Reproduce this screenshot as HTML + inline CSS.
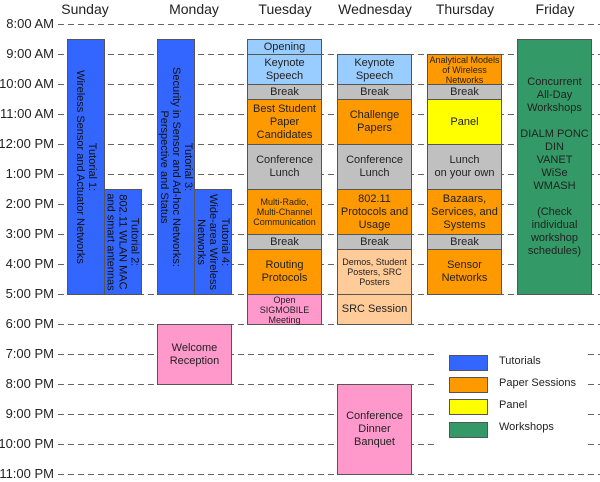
<!DOCTYPE html>
<html><head><style>
body{margin:0;width:600px;height:482px;background:#fff;position:relative;overflow:hidden;font-family:"Liberation Sans",sans-serif;}
.l{position:absolute;left:-10px;width:64px;text-align:right;font-size:13px;color:#222;line-height:14px;white-space:nowrap;}
.d{position:absolute;top:1px;font-size:14px;color:#222;text-align:center;width:100px;}
.b{position:absolute;box-sizing:border-box;border:1px solid #555;display:flex;align-items:center;justify-content:center;text-align:center;font-size:11px;line-height:13px;color:#222;}
.bl{background:#3366ff}.lb{background:#99ccff}.g{background:#c0c0c0}.o{background:#ff9900}.y{background:#ffff00}.p{background:#ff99cc}.lo{background:#ffcc99}.gr{background:#339966}
.v{position:absolute;transform:rotate(90deg);transform-origin:center;text-align:center;font-size:11px;line-height:12px;color:#111;white-space:nowrap;}
.s{font-size:9px;line-height:10px}
.lg{position:absolute;left:499px;font-size:11px;color:#222;}
</style></head><body>
<svg width="600" height="482" style="position:absolute;left:0;top:0">
<g stroke="#666" stroke-width="1" stroke-dasharray="6,4">
<line x1="58" y1="24.5" x2="600" y2="24.5"/><line x1="58" y1="54.5" x2="600" y2="54.5"/><line x1="58" y1="84.5" x2="600" y2="84.5"/><line x1="58" y1="114.5" x2="600" y2="114.5"/><line x1="58" y1="144.5" x2="600" y2="144.5"/><line x1="58" y1="174.5" x2="600" y2="174.5"/><line x1="58" y1="204.5" x2="600" y2="204.5"/><line x1="58" y1="234.5" x2="600" y2="234.5"/><line x1="58" y1="264.5" x2="600" y2="264.5"/><line x1="58" y1="294.5" x2="600" y2="294.5"/><line x1="58" y1="324.5" x2="600" y2="324.5"/><line x1="58" y1="354.5" x2="600" y2="354.5"/><line x1="58" y1="384.5" x2="600" y2="384.5"/><line x1="58" y1="414.5" x2="600" y2="414.5"/><line x1="58" y1="444.5" x2="600" y2="444.5"/><line x1="58" y1="474.5" x2="600" y2="474.5"/>
</g>
<rect x="437" y="340" width="148" height="110" fill="#fff"/>
</svg>
<div class="d" style="left:35px">Sunday</div><div class="d" style="left:144px">Monday</div><div class="d" style="left:235px">Tuesday</div><div class="d" style="left:325px">Wednesday</div><div class="d" style="left:415px">Thursday</div><div class="d" style="left:505px">Friday</div>
<div class="l" style="top:17px">8:00 AM</div><div class="l" style="top:47px">9:00 AM</div><div class="l" style="top:77px">10:00 AM</div><div class="l" style="top:107px">11:00 AM</div><div class="l" style="top:137px">12:00 PM</div><div class="l" style="top:167px">1:00 PM</div><div class="l" style="top:197px">2:00 PM</div><div class="l" style="top:227px">3:00 PM</div><div class="l" style="top:257px">4:00 PM</div><div class="l" style="top:287px">5:00 PM</div><div class="l" style="top:317px">6:00 PM</div><div class="l" style="top:347px">7:00 PM</div><div class="l" style="top:377px">8:00 PM</div><div class="l" style="top:407px">9:00 PM</div><div class="l" style="top:437px">10:00 PM</div><div class="l" style="top:467px">11:00 PM</div>

<div class="b bl" style="left:67px;top:39px;width:38px;height:256px"><div class="v">Tutorial 1:<br>Wireless Sensor and Actuator Networks</div></div>
<div class="b bl" style="left:104px;top:189px;width:38px;height:106px"><div class="v">Tutorial 2:<br>802.11 WLAN MAC<br>and smart antennas</div></div>
<div class="b bl" style="left:157px;top:39px;width:38px;height:256px"><div class="v">Tutorial 3:<br>Security in Sensor and Ad-hoc Networks:<br>Perspective and Status</div></div>
<div class="b bl" style="left:194px;top:189px;width:38px;height:106px"><div class="v">Tutorial 4:<br>Wide-area Wireless<br>Networks</div></div>
<div class="b p" style="left:157px;top:324px;width:75px;height:61px">Welcome<br>Reception</div>

<div class="b lb" style="left:247px;top:39px;width:75px;height:16px">Opening</div>
<div class="b lb" style="left:247px;top:54px;width:75px;height:31px">Keynote<br>Speech</div>
<div class="b g" style="left:247px;top:84px;width:75px;height:16px">Break</div>
<div class="b o" style="left:247px;top:99px;width:75px;height:46px">Best Student<br>Paper<br>Candidates</div>
<div class="b g" style="left:247px;top:144px;width:75px;height:46px">Conference<br>Lunch</div>
<div class="b o s" style="left:247px;top:189px;width:75px;height:46px">Multi-Radio,<br>Multi-Channel<br>Communication</div>
<div class="b g" style="left:247px;top:234px;width:75px;height:16px">Break</div>
<div class="b o" style="left:247px;top:249px;width:75px;height:46px">Routing<br>Protocols</div>
<div class="b p s" style="left:247px;top:294px;width:75px;height:31px">Open<br>SIGMOBILE<br>Meeting</div>

<div class="b lb" style="left:337px;top:54px;width:75px;height:31px">Keynote<br>Speech</div>
<div class="b g" style="left:337px;top:84px;width:75px;height:16px">Break</div>
<div class="b o" style="left:337px;top:99px;width:75px;height:46px">Challenge<br>Papers</div>
<div class="b g" style="left:337px;top:144px;width:75px;height:46px">Conference<br>Lunch</div>
<div class="b o" style="left:337px;top:189px;width:75px;height:46px">802.11<br>Protocols and<br>Usage</div>
<div class="b g" style="left:337px;top:234px;width:75px;height:16px">Break</div>
<div class="b lo s" style="left:337px;top:249px;width:75px;height:46px">Demos, Student<br>Posters, SRC<br>Posters</div>
<div class="b lo" style="left:337px;top:294px;width:75px;height:31px">SRC Session</div>
<div class="b p" style="left:337px;top:384px;width:75px;height:91px">Conference<br>Dinner<br>Banquet</div>

<div class="b o s" style="left:427px;top:54px;width:75px;height:31px">Analytical Models<br>of Wireless<br>Networks</div>
<div class="b g" style="left:427px;top:84px;width:75px;height:16px">Break</div>
<div class="b y" style="left:427px;top:99px;width:75px;height:46px">Panel</div>
<div class="b g" style="left:427px;top:144px;width:75px;height:46px">Lunch<br>on your own</div>
<div class="b o" style="left:427px;top:189px;width:75px;height:46px">Bazaars,<br>Services, and<br>Systems</div>
<div class="b g" style="left:427px;top:234px;width:75px;height:16px">Break</div>
<div class="b o" style="left:427px;top:249px;width:75px;height:46px">Sensor<br>Networks</div>

<div class="b gr" style="left:517px;top:39px;width:75px;height:256px">Concurrent<br>All-Day<br>Workshops<br><br>DIALM PONC<br>DIN<br>VANET<br>WiSe<br>WMASH<br><br>(Check<br>individual<br>workshop<br>schedules)</div>

<div class="b bl" style="left:449px;top:355px;width:39px;height:16px"></div><div class="lg" style="top:355px">Tutorials</div>
<div class="b o" style="left:449px;top:377px;width:39px;height:16px"></div><div class="lg" style="top:377px">Paper Sessions</div>
<div class="b y" style="left:449px;top:399px;width:39px;height:16px"></div><div class="lg" style="top:399px">Panel</div>
<div class="b gr" style="left:449px;top:422px;width:39px;height:16px"></div><div class="lg" style="top:421px">Workshops</div>
</body></html>
